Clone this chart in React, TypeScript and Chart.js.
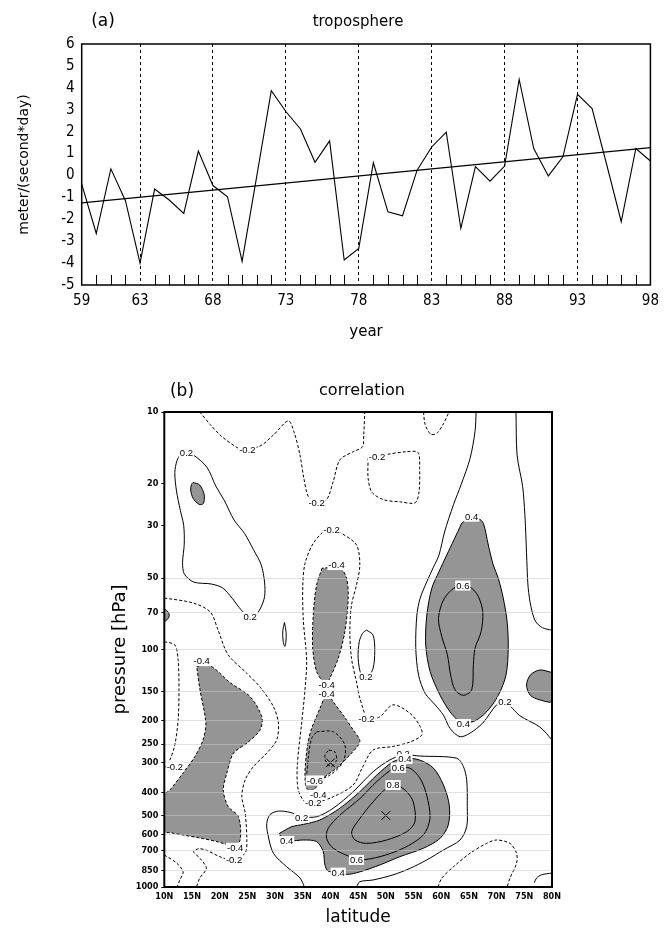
import React, { useEffect, useRef } from "react";
import { Chart, registerables } from "chart.js";

Chart.register(...registerables);

// ================= Panel (a) data =================
const years = [59, 60, 61, 62, 63, 64, 65, 66, 67, 68, 69, 70, 71, 72, 73, 74, 75, 76, 77, 78,
  79, 80, 81, 82, 83, 84, 85, 86, 87, 88, 89, 90, 91, 92, 93, 94, 95, 96, 97, 98];
const troposphere = [-0.4, -2.65, 0.3, -1.15, -4.0, -0.62, -1.12, -1.73, 1.11, -0.46,
  -0.97, -3.92, -0.05, 3.87, 2.92, 2.12, 0.6, 1.58, -3.86, -3.33,
  0.58, -1.66, -1.84, 0.24, 1.3, 1.98, -2.42, 0.4, -0.26, 0.43,
  4.38, 1.23, -0.02, 0.85, 3.7, 3.05, 0.5, -2.11, 1.23, 0.66];
const trendYears = [59, 98];
const trendValues = [-1.25, 1.27];
const yearTickLabels = [59, 63, 68, 73, 78, 83, 88, 93, 98];
const dashedYears = [63, 68, 73, 78, 83, 88, 93];
const titleA = "(a)";
const subtitleA = "troposphere";
const yTitleA = "meter/(second*day)";
const xTitleA = "year";

// ================= Panel (b) data =================
const pressureTicks = [10, 20, 30, 50, 70, 100, 150, 200, 250, 300, 400, 500, 600, 700, 850, 1000];
const faintLevels = [50, 70, 100, 150, 200, 250, 300, 400, 500, 600, 700, 850];
const titleB = "(b)";
const subtitleB = "correlation";
const yTitleB = "pressure [hPa]";
const xTitleB = "latitude";

// contours: [latitude (deg N), pressure (hPa)]
const neg02StratTop = [[16.4, 10], [18.3, 11.3], [20.4, 12.7], [23.1, 14.1], [24.3, 14.4], [27.3, 13.9], [29.7, 12.5], [32.4, 10.9], [33.5, 12.3], [34.5, 15.2], [35.2, 19.0], [36.0, 22.7], [37.5, 24.0], [39.3, 23.4], [40.5, 19.6], [41.7, 15.9], [44.1, 14.7], [45.8, 14.0], [46.0, 12.5], [46.2, 10]];
const neg02TopU = [[56.8, 10], [57.1, 11.3], [58.1, 12.4], [59.2, 12.3], [60.4, 11.2], [61.4, 10]];
const neg02Loop55 = [[46.8, 15.6], [50.1, 15.1], [53.7, 14.7], [55.8, 14.8], [56.1, 17.3], [56.0, 21.6], [55.3, 24.1], [52.6, 23.9], [49.6, 23.4], [47.5, 21.8], [46.8, 19.0], [46.8, 15.6]];
const pos02Strat = [[14.0, 14.9], [15.3, 15.2], [17.7, 17.1], [19.3, 20.5], [20.8, 23.5], [22.6, 28.5], [24.5, 32.5], [26.1, 38.0], [27.5, 44.0], [28.1, 52.0], [28.1, 60.0], [27.3, 67.5], [26.2, 72.5], [25.0, 72.0], [23.5, 66.5], [22.3, 61.0], [20.5, 55.0], [18.5, 53.0], [15.3, 52.0], [13.6, 48.0], [13.3, 43.0], [13.6, 36.0], [13.5, 30.0], [12.9, 26.0], [12.2, 21.5], [11.9, 18.0], [12.3, 16.0], [13.0, 15.1], [14.0, 14.9]];
const pos04StratGray = [[15.2, 19.8], [16.4, 20.3], [17.2, 22.3], [17.05, 24.3], [16.3, 24.5], [15.2, 23.1], [14.76, 21.3], [14.9, 20.2], [15.2, 19.8]];
const pos02East = [[73.5, 10], [73.7, 15.2], [74.7, 20.6], [75.1, 27], [75.3, 34], [75.5, 45], [75.7, 55], [76.2, 66], [77.0, 76], [78.3, 81], [80, 83]];
const pos02Around65 = [[66.3, 10], [66.1, 12.1], [65.2, 15.7], [63.6, 20.2], [62.2, 24.6], [60.6, 32], [59.6, 40], [58.6, 45], [57.4, 51.8], [56.2, 60.8], [55.6, 71.6], [55.4, 98], [55.9, 128], [57.1, 153], [58.9, 171], [60.4, 189], [61.6, 215], [63.4, 233], [65.2, 225], [67.5, 204], [70.0, 171], [71.5, 166], [74.2, 190], [77.8, 212], [80, 240]];
const pos04Gray65 = [[63.7, 29.4], [64.9, 28.1], [66.7, 28.1], [67.6, 29.4], [68.5, 36.3], [69.4, 44.1], [70.3, 50.1], [71.2, 60.8], [71.9, 76.4], [72.1, 98.9], [71.7, 128], [70.3, 156], [68.2, 183], [65.8, 201], [63.4, 201], [61.6, 183], [59.8, 156], [58.0, 124], [57.2, 95.7], [57.4, 71.6], [58.3, 55.2], [59.6, 47], [61.0, 40], [62.3, 34.5], [63.7, 29.4]];
const pos06At65 = [[64.0, 53.5], [62.2, 55.3], [60.4, 61.9], [59.5, 74], [60.1, 88.3], [61.1, 105], [61.7, 128], [62.5, 148], [64.0, 156], [65.5, 148], [65.8, 116], [66.1, 98.9], [67.2, 84.1], [67.5, 69.4], [66.7, 59.8], [65.5, 55.2], [64.0, 53.5]];
const pos04EdgeGray = [[80, 125], [77.8, 122], [76.1, 128], [75.4, 141], [76.1, 156], [77.8, 163], [80, 165], [80, 125]];
const pos02Ellipse46 = [[46.5, 82.8], [47.7, 87], [48.0, 102], [47.7, 120], [46.8, 130], [45.6, 128], [45.0, 109], [45.2, 92.7], [45.8, 85.5], [46.5, 82.8]];
const pos02Thin31 = [[31.7, 77], [32.0, 85], [31.95, 93], [31.75, 97], [31.45, 92], [31.4, 83], [31.7, 77]];
const pos04WestEdgeGray = [[10, 67.5], [10.7, 69.5], [10.9, 72], [10.6, 74.5], [10, 76], [10, 67.5]];
const neg02WestOuter = [[10, 60.7], [15.2, 63.7], [18.3, 69.5], [19.7, 82.8], [21.5, 105], [24.9, 126], [27.3, 144], [29.7, 174], [30.6, 204], [30.3, 240], [28.5, 273], [26.1, 311], [24.6, 354], [24.0, 417], [24.6, 488], [24.9, 634], [24.6, 719], [22.4, 770], [20.0, 745], [17.6, 700], [16.2, 690], [15.3, 710], [16.5, 760], [17.6, 834], [16.4, 918], [15.8, 1000]];
const neg04WestGray = [[15.85, 118], [18.25, 117], [21.9, 138], [25.5, 158], [27.6, 192], [27.3, 218], [24.9, 248], [22.5, 273], [21.3, 331], [20.65, 391], [21.55, 459], [23.4, 506], [23.7, 634], [22.5, 670], [19.5, 644], [16.45, 622], [13.4, 604], [11.0, 590], [10, 585], [10, 410], [11.0, 391], [13.4, 331], [15.5, 283], [17.0, 240], [17.5, 204], [16.45, 148], [15.85, 118]];
const neg02WestBulge = [[10, 92.7], [11.9, 95.7], [12.5, 111], [12.65, 148], [12.5, 198], [11.9, 252], [11.0, 292], [10, 316]];
const neg02SouthWest = [[10, 733], [12.2, 792], [13.4, 863], [12.8, 934], [12.3, 1000]];
const neg02Around40 = [[40.2, 30.8], [38.7, 32.0], [36.9, 35.7], [35.4, 43.4], [35.0, 54.4], [35.1, 75.2], [35.7, 111], [35.4, 148], [34.8, 204], [34.0, 311], [34.2, 391], [35.4, 438], [36.9, 443], [40.5, 417], [44.1, 372], [45.7, 316], [47.7, 265], [51.3, 256], [54.4, 245], [56.5, 229], [56.2, 211], [54.4, 186], [51.3, 171], [48.9, 192], [46.8, 196], [45.3, 160], [44.7, 137], [43.8, 109], [43.5, 84.1], [43.8, 65], [44.7, 53.5], [45.3, 44.1], [44.7, 36.3], [42.0, 32.4], [40.2, 30.8]];
const neg04Upper40Gray = [[38.5, 45.4], [37.5, 53.5], [36.9, 71.6], [36.8, 98.6], [37.5, 124], [38.7, 137], [39.3, 140], [39.9, 132], [41.4, 109], [42.6, 84.1], [43.2, 60.7], [42.9, 50.0], [41.7, 45.4], [38.5, 45.4]];
const neg04Lower40Gray = [[39.3, 150], [38.1, 177], [36.6, 215], [35.9, 250], [35.5, 300], [35.4, 338], [35.7, 384], [36.85, 391], [38.7, 348], [41.1, 316], [43.5, 278], [45.3, 244], [44.1, 218], [42.3, 189], [40.5, 166], [39.3, 150]];
const neg06At40 = [[37.5, 222], [40.5, 222], [42.6, 252], [42.3, 297], [39.9, 338], [37.5, 354], [35.9, 352], [36.0, 287], [36.6, 237], [37.5, 222]];
const neg08At40 = [[39.7, 265], [40.8, 270], [41.1, 292], [40.2, 311], [39.3, 301], [39.0, 278], [39.7, 265]];
const pos02Around50 = [[35.3, 1000], [34.5, 916], [32.1, 822], [29.7, 721], [28.7, 600], [28.5, 540], [29.1, 495], [30.6, 479], [32.7, 485], [34.8, 505], [37.5, 506], [40.5, 466], [44.1, 397], [47.7, 327], [50.7, 292], [53.2, 278], [56.2, 281], [62.8, 287], [64.0, 311], [64.6, 354], [64.7, 459], [64.6, 557], [63.4, 634], [60.4, 698], [57.4, 769], [54.4, 834], [51.3, 889], [47.7, 934], [45.3, 950], [44.7, 1000]];
const pos04Gray50 = [[30.8, 594], [33.05, 557], [35.1, 545], [38.1, 522], [41.7, 466], [45.3, 397], [48.35, 338], [51.3, 297], [53.45, 287], [56.1, 292], [58.6, 316], [60.4, 372], [61.45, 452], [61.27, 548], [59.8, 624], [56.76, 687], [52.55, 745], [48.95, 807], [45.33, 863], [42.93, 885], [39.6, 857], [39.0, 807], [38.7, 710], [37.5, 644], [35.1, 634], [32.7, 640], [31.2, 624], [30.8, 594]];
const pos06At50 = [[52.25, 312], [51.34, 316], [48.35, 360], [45.33, 424], [41.72, 498], [39.6, 566], [39.3, 624], [40.5, 687], [43.5, 745], [45.33, 769], [48.95, 745], [53.15, 687], [56.76, 604], [57.97, 514], [57.37, 410], [56.16, 348], [54.36, 316], [52.25, 312]];
const pos08At50 = [[52.25, 372], [50.15, 384], [47.73, 437], [45.33, 514], [43.83, 585], [44.43, 634], [46.54, 655], [50.15, 634], [53.76, 585], [55.26, 531], [54.95, 438], [53.76, 397], [52.25, 372]];
const neg02SouthEast = [[59.4, 1000], [60.1, 918], [62.2, 822], [65.2, 721], [68.2, 655], [70.0, 634], [72.4, 655], [73.6, 721], [73.6, 794], [72.4, 918], [71.9, 1000]];
const pos02SouthEastEdge = [[76.8, 960], [77.2, 918], [78.1, 889], [80, 873]];
const extremaMarks = [[40, 300], [50, 500]];

// contour labels: [text, latitude, pressure]
const contourLabels: [string, number, number][] = [
  ["0.2", 14.0, 14.9], ["-0.2", 25.0, 14.4], ["-0.2", 37.5, 24.2], ["-0.2", 48.4, 15.4],
  ["0.4", 65.5, 27.6], ["-0.2", 40.2, 31.4], ["-0.4", 41.1, 44.1], ["0.2", 25.5, 73],
  ["0.6", 63.9, 53.8], ["-0.4", 16.75, 112], ["0.2", 46.4, 131], ["-0.4", 39.3, 141],
  ["-0.4", 39.3, 154], ["-0.2", 46.5, 196], ["0.2", 71.5, 166], ["0.4", 64.0, 206],
  ["-0.2", 11.9, 313], ["-0.6", 37.2, 356], ["-0.4", 37.8, 410], ["-0.2", 36.9, 444],
  ["0.2", 34.8, 512], ["0.4", 32.1, 640], ["-0.4", 22.8, 684], ["-0.2", 22.6, 769],
  ["0.2", 53.15, 276], ["0.4", 53.45, 289], ["0.6", 52.25, 315], ["0.8", 51.3, 372],
  ["0.6", 44.7, 769], ["0.4", 41.4, 870],
];

// which contours are dashed (negative) and which bound a shaded |r|>=0.4 region
const contourTable: [number[][], boolean, boolean][] = [
  [neg02StratTop, true, false], [neg02TopU, true, false], [neg02Loop55, true, false],
  [pos02Strat, false, false], [pos04StratGray, false, true], [pos02East, false, false],
  [pos02Around65, false, false], [pos04Gray65, false, true], [pos06At65, false, false],
  [pos04EdgeGray, false, true], [pos02Ellipse46, false, false], [pos02Thin31, false, false],
  [pos04WestEdgeGray, false, true], [neg02WestOuter, true, false], [neg04WestGray, true, true],
  [neg02WestBulge, true, false], [neg02SouthWest, true, false], [neg02Around40, true, false],
  [neg04Upper40Gray, true, true], [neg04Lower40Gray, true, true], [neg06At40, true, false],
  [neg08At40, true, false], [pos02Around50, false, false], [pos04Gray50, false, true],
  [pos06At50, false, false], [pos08At50, false, false], [neg02SouthEast, true, false],
  [pos02SouthEastEdge, false, false],
];

const fontNarrow = "'Liberation Sans Narrow', 'DejaVu Sans Condensed', 'Liberation Sans', sans-serif";
const fontTitle = "'DejaVu Sans', sans-serif";
const SHADE = "#959595";

const panelAPlugin = {
  id: "panelA",
  afterDraw(chart: any) {
    const { ctx, chartArea: a, scales } = chart;
    ctx.save();
    ctx.strokeStyle = "#000";
    ctx.lineWidth = 1;
    years.forEach((yr) => {
      if (yr === years[0] || yr === years[years.length - 1] || dashedYears.includes(yr)) return;
      const px = Math.round(scales.x.getPixelForValue(yr)) + 0.5;
      ctx.beginPath();
      ctx.moveTo(px, a.bottom);
      ctx.lineTo(px, a.bottom - 10);
      ctx.stroke();
    });
    ctx.lineWidth = 1.5;
    ctx.strokeRect(a.left, a.top, a.right - a.left, a.bottom - a.top);
    ctx.fillStyle = "#000";
    ctx.textBaseline = "middle";
    ctx.textAlign = "center";
    ctx.font = `17px ${fontTitle}`;
    ctx.fillText(titleA, 103, 22);
    ctx.font = `15px ${fontTitle}`;
    ctx.fillText(subtitleA, 358, 22);
    ctx.restore();
  },
};

const panelBPlugin = {
  id: "panelB",
  afterDraw(chart: any) {
    const { ctx, chartArea: a, scales } = chart;
    ctx.save();
    ctx.font = `9.5px 'Liberation Sans', sans-serif`;
    ctx.textAlign = "center";
    ctx.textBaseline = "middle";
    contourLabels.forEach(([txt, lat, p]) => {
      const x = scales.x.getPixelForValue(lat);
      const y = scales.y.getPixelForValue(p);
      const w = ctx.measureText(txt).width;
      ctx.fillStyle = "#fff";
      ctx.fillRect(x - w / 2 - 1, y - 5, w + 2, 10);
      ctx.fillStyle = "#000";
      ctx.fillText(txt, x, y + 0.5);
    });
    ctx.strokeStyle = "#000";
    ctx.lineWidth = 2;
    ctx.strokeRect(a.left, a.top, a.right - a.left, a.bottom - a.top);
    ctx.fillStyle = "#000";
    ctx.font = `17px ${fontTitle}`;
    ctx.fillText(titleB, 182, 47);
    ctx.font = `16px ${fontTitle}`;
    ctx.fillText(subtitleB, 362, 46);
    ctx.restore();
  },
};

export default function App() {
  const refA = useRef<HTMLCanvasElement | null>(null);
  const refB = useRef<HTMLCanvasElement | null>(null);

  useEffect(() => {
    const chartA = new Chart(refA.current as HTMLCanvasElement, {
      type: "scatter",
      data: {
        datasets: [
          {
            data: years.map((yr, i) => ({ x: yr, y: troposphere[i] })),
            showLine: true,
            borderColor: "#000",
            borderWidth: 1.1,
            pointRadius: 0,
            tension: 0,
          },
          {
            data: trendYears.map((yr, i) => ({ x: yr, y: trendValues[i] })),
            showLine: true,
            borderColor: "#000",
            borderWidth: 1.1,
            pointRadius: 0,
          },
        ],
      } as any,
      options: {
        responsive: false,
        animation: false,
        devicePixelRatio: 1,
        layout: { padding: { left: 12, top: 44, right: 13, bottom: 0 } },
        plugins: { legend: { display: false }, tooltip: { enabled: false } },
        scales: {
          x: {
            type: "linear",
            min: 59,
            max: 98,
            afterBuildTicks: (s: any) => {
              s.ticks = yearTickLabels.map((v) => ({ value: v }));
            },
            afterFit: (s: any) => {
              s.height = 60;
            },
            ticks: {
              autoSkip: false,
              maxRotation: 0,
              padding: 7,
              color: "#000",
              font: { family: fontNarrow, size: 15 },
              callback: (v: any) => String(v),
            },
            grid: {
              display: true,
              drawTicks: false,
              lineWidth: 1,
              color: (c: any) => (c.tick && dashedYears.includes(c.tick.value) ? "#000" : "rgba(0,0,0,0)"),
            },
            border: { display: false, dash: [3, 3] },
            title: {
              display: true,
              text: xTitleA,
              color: "#000",
              font: { family: fontTitle, size: 15 },
              padding: { top: 0, bottom: 4 },
            },
          },
          y: {
            type: "linear",
            min: -5,
            max: 6,
            afterFit: (s: any) => {
              s.width = 81.7 - 12;
            },
            ticks: {
              stepSize: 1,
              autoSkip: false,
              padding: 7,
              color: "#000",
              font: { family: fontNarrow, size: 15 },
            },
            grid: { display: false, drawTicks: false },
            border: { display: false },
            title: {
              display: true,
              text: yTitleA,
              color: "#000",
              font: { family: fontTitle, size: 14 },
              padding: { top: 4, bottom: 0 },
            },
          },
        },
      } as any,
      plugins: [panelAPlugin],
    });

    const contourSets = contourTable.map(([pts, dashed, shaded]) => ({
      data: pts.map(([lat, p]) => ({ x: lat, y: p })),
      showLine: true,
      borderColor: "#000",
      borderWidth: 1,
      borderDash: dashed ? [3, 2] : [],
      pointRadius: 0,
      tension: 0.3,
      fill: shaded ? "shape" : false,
      backgroundColor: SHADE,
    }));

    const chartB = new Chart(refB.current as HTMLCanvasElement, {
      type: "scatter",
      data: {
        datasets: [
          ...contourSets,
          {
            data: extremaMarks.map(([lat, p]) => ({ x: lat, y: p })),
            showLine: false,
            pointStyle: "crossRot",
            pointRadius: 6,
            borderColor: "#000",
            borderWidth: 1,
          },
        ],
      } as any,
      options: {
        responsive: false,
        animation: false,
        devicePixelRatio: 1,
        layout: { padding: { left: 106, top: 67, right: 114, bottom: 0 } },
        plugins: {
          legend: { display: false },
          tooltip: { enabled: false },
          filler: { drawTime: "beforeDatasetsDraw" },
        },
        scales: {
          x: {
            type: "linear",
            min: 10,
            max: 80,
            afterFit: (s: any) => {
              s.height = 42;
            },
            ticks: {
              stepSize: 5,
              autoSkip: false,
              maxRotation: 0,
              padding: 4,
              color: "#000",
              font: { family: fontNarrow, size: 9, weight: "bold" },
              callback: (v: any) => `${v}N`,
            },
            grid: { display: false, drawTicks: false },
            border: { display: false },
            title: {
              display: true,
              text: xTitleB,
              color: "#000",
              font: { family: fontTitle, size: 17 },
              padding: { top: 0, bottom: 1 },
            },
          },
          y: {
            type: "logarithmic",
            min: 10,
            max: 1000,
            reverse: true,
            afterBuildTicks: (s: any) => {
              s.ticks = pressureTicks.map((v) => ({ value: v }));
            },
            afterFit: (s: any) => {
              s.width = 164.3 - 106;
            },
            ticks: {
              autoSkip: false,
              padding: 3,
              color: "#000",
              font: { family: fontNarrow, size: 9, weight: "bold" },
              callback: (v: any) => String(v),
            },
            grid: {
              display: true,
              z: 1,
              drawTicks: true,
              tickLength: 3,
              tickColor: "#000",
              lineWidth: 1,
              color: (c: any) =>
                c.tick && faintLevels.includes(c.tick.value) ? "rgba(200,200,200,0.55)" : "rgba(0,0,0,0)",
            },
            border: { display: false },
            title: {
              display: true,
              text: yTitleB,
              color: "#000",
              font: { family: fontTitle, size: 18 },
              padding: { top: 4, bottom: 0 },
            },
          },
        },
      } as any,
      plugins: [panelBPlugin],
    });

    return () => {
      chartA.destroy();
      chartB.destroy();
    };
  }, []);

  return (
    <div style={{ position: "absolute", left: 0, top: 0, width: 666, height: 929, background: "#fff" }}>
      <canvas ref={refA} width={666} height={345} style={{ position: "absolute", left: 0, top: 0, display: "block" }} />
      <canvas ref={refB} width={666} height={584} style={{ position: "absolute", left: 0, top: 345, display: "block" }} />
    </div>
  );
}
